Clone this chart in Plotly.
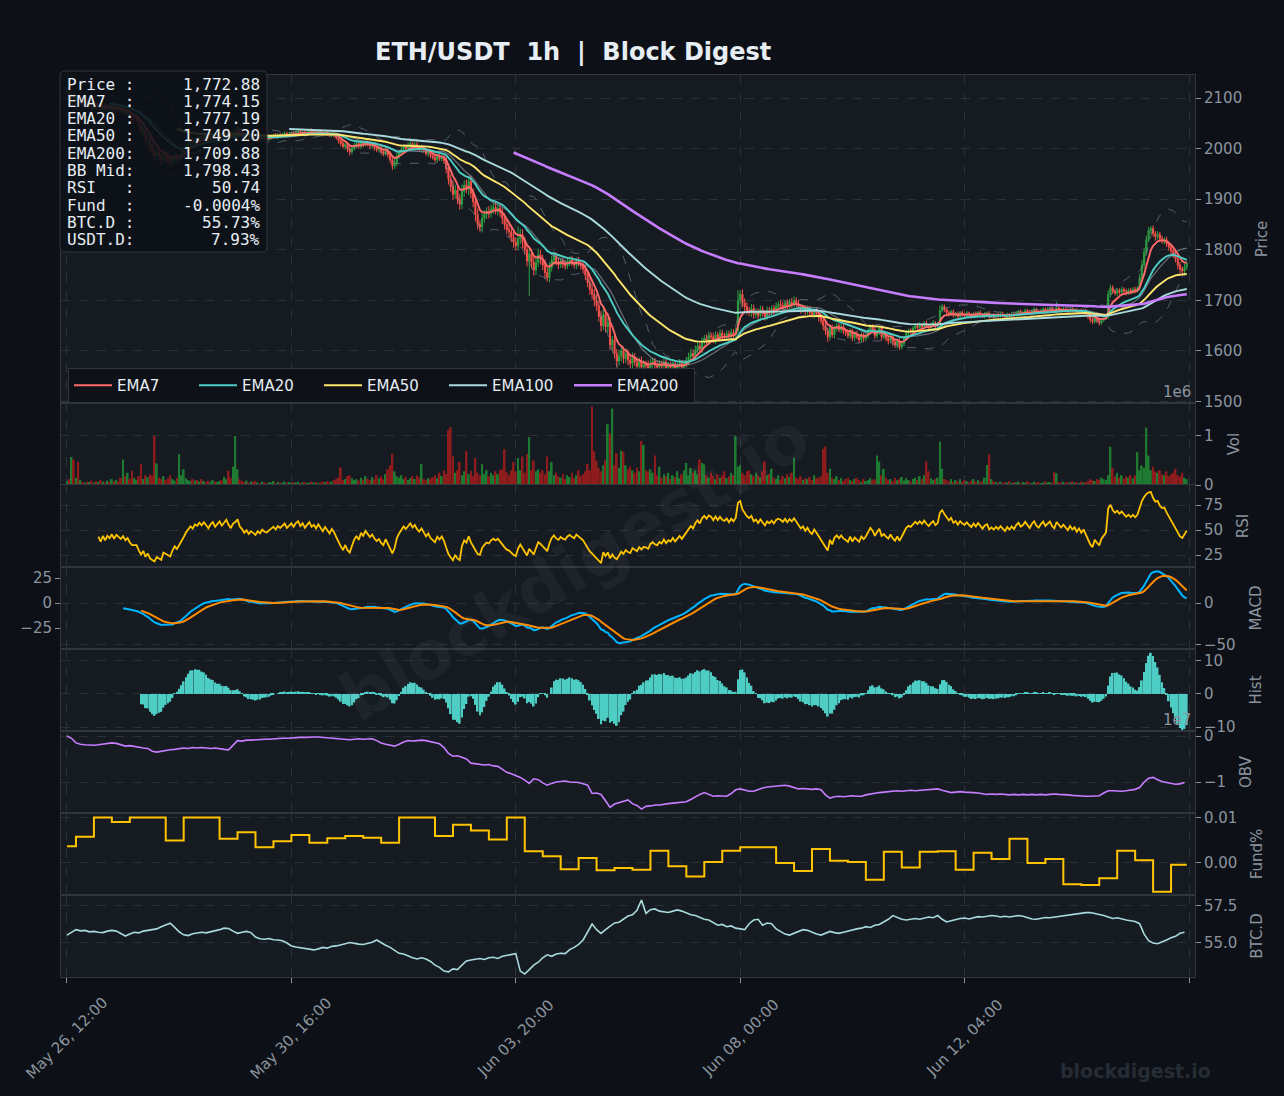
import numpy as np
import pandas as pd
import plotly.graph_objects as go
from plotly.subplots import make_subplots

# ------------------------------------------------------------------ data
start_time = "2023-05-26 12:00"          # first hourly candle

close = [
    2112, 2100, 2106, 2094, 2101, 2090, 2097, 2086, 2094, 2085,
    2092, 2080, 2089, 2081, 2088, 2078, 2086, 2077, 2084, 2079,
    2085, 2076, 2082, 2078, 2074, 2078, 2070, 2073, 2064, 2058,
    2058, 2058, 2046, 2034, 2038, 2018, 2022, 2002, 1994, 1986,
    1992, 1985, 1978, 1988, 1982, 1976, 1972, 1980, 1986, 1978,
    1983, 1990, 1996, 2004, 2010, 2016, 2012, 2020, 2018, 2024,
    2020, 2026, 2022, 2017, 2024, 2028, 2021, 2026, 2031, 2025,
    2030, 2036, 2029, 2024, 2032, 2035, 2040, 2030, 2026, 2020,
    2024, 2018, 2022, 2019, 2016, 2021, 2018, 2023, 2020, 2019,
    2021, 2024, 2026, 2023, 2027, 2025, 2028, 2030, 2026, 2029,
    2031, 2028, 2032, 2034, 2030, 2033, 2029, 2032, 2035, 2031,
    2033, 2030, 2034, 2031, 2028, 2032, 2029, 2026, 2030, 2027,
    2022, 2016, 2010, 2004, 2008, 1999, 1994, 2000, 2006, 2010,
    2004, 2012, 2008, 2014, 2009, 2005, 2008, 2002, 1998, 2000,
    1994, 1990, 1996, 1988, 1978, 1966, 1972, 1985, 1992, 1998,
    2004, 2000, 2006, 2010, 2004, 2008, 2002, 1998, 2003, 1996,
    1990, 1994, 1986, 1982, 1978, 1985, 1980, 1984, 1976, 1960,
    1940, 1925, 1910, 1918, 1900, 1890, 1915, 1928, 1920, 1935,
    1912, 1895, 1870, 1850, 1845, 1862, 1870, 1876, 1872, 1880,
    1884, 1878, 1882, 1874, 1862, 1850, 1840, 1836, 1825, 1815,
    1808, 1822, 1830, 1815, 1800, 1778, 1792, 1775, 1760, 1775,
    1790, 1782, 1770, 1755, 1745, 1765, 1780, 1788, 1776, 1770,
    1778, 1772, 1768, 1776, 1780, 1774, 1770, 1778, 1773, 1768,
    1762, 1750, 1735, 1722, 1712, 1700, 1690, 1668, 1650, 1672,
    1648, 1656, 1612, 1622, 1595, 1580, 1590, 1600, 1585, 1595,
    1582, 1575, 1588, 1578, 1570, 1580, 1568, 1574, 1572, 1565,
    1576, 1580, 1572, 1568, 1575, 1570, 1578, 1566, 1572, 1568,
    1575, 1565, 1570, 1576, 1568, 1574, 1580, 1588, 1595, 1590,
    1602, 1610, 1604, 1618, 1625, 1620, 1630, 1628, 1622, 1632,
    1626, 1635, 1630, 1628, 1634, 1628, 1636, 1632, 1640, 1700,
    1712, 1695, 1688, 1680, 1676, 1684, 1672, 1678, 1670, 1682,
    1675, 1668, 1680, 1676, 1684, 1678, 1688, 1692, 1690, 1686,
    1694, 1688, 1696, 1692, 1700, 1694, 1688, 1682, 1686, 1678,
    1684, 1676, 1672, 1680, 1674, 1666, 1660, 1650, 1640, 1628,
    1646, 1632, 1645, 1650, 1642, 1648, 1640, 1636, 1630, 1640,
    1626, 1634, 1628, 1622, 1632, 1625, 1630, 1640, 1648, 1642,
    1630, 1638, 1645, 1628, 1632, 1625, 1620, 1628, 1618, 1612,
    1620, 1608, 1615, 1625, 1635, 1640, 1638, 1645, 1650, 1646,
    1652, 1648, 1655, 1650, 1646, 1652, 1656, 1650, 1654, 1680,
    1688, 1682, 1676, 1672, 1678, 1670, 1674, 1668, 1676, 1672,
    1670, 1675, 1671, 1668, 1674, 1670, 1676, 1672, 1668, 1673,
    1675, 1668, 1671, 1668, 1672, 1669, 1673, 1670, 1667, 1672,
    1669, 1673, 1670, 1675, 1678, 1674, 1676, 1680, 1677, 1674,
    1679, 1682, 1678, 1676, 1680, 1683, 1679, 1682, 1684, 1680,
    1678, 1685, 1682, 1680, 1683, 1680, 1678, 1682, 1679, 1681,
    1677, 1680, 1676, 1679, 1674, 1668, 1662, 1658, 1664, 1660,
    1656, 1662, 1665, 1668, 1712, 1725, 1718, 1714, 1720, 1716,
    1722, 1718, 1715, 1720, 1717, 1722, 1719, 1724, 1745, 1770,
    1795, 1820, 1838, 1842, 1832, 1826, 1830, 1822, 1818, 1820,
    1812, 1805, 1798, 1790, 1782, 1770, 1762, 1758, 1766, 1772.88,
]

wick_up = [
    15, 8, 6, 4, 5, 4, 3, 5, 4, 3, 4, 5, 3, 4, 5, 3, 4, 3, 5, 4, 3, 4, 5, 3, 4,
    4, 3, 5, 4, 6, 5, 4, 6, 5, 8, 7, 9, 6, 8, 7, 10, 6, 7, 5, 6, 8, 5, 6, 7, 5,
    6, 5, 4, 6, 5, 4, 6, 5, 4, 5, 3, 4, 5, 3, 4, 6, 3, 4, 5, 3, 4, 5, 3, 4, 5,
    3, 6, 4, 3, 4, 3, 5, 3, 4, 3, 5, 3, 4, 3, 4, 3, 4, 3, 5, 3, 4, 3, 4, 3, 4,
    3, 4, 3, 5, 3, 4, 3, 4, 3, 5, 3, 4, 3, 4, 3, 4, 3, 4, 5, 3, 4, 5, 6, 5, 4,
    5, 6, 4, 5, 4, 6, 5, 4, 5, 4, 6, 5, 4, 5, 6, 5, 4, 6, 5, 7, 6, 8, 7, 5, 6,
    5, 4, 6, 5, 4, 5, 6, 4, 5, 4, 5, 6, 5, 4, 6, 5, 4, 5, 6, 8, 10, 9, 12, 11, 8,
    10, 14, 9, 11, 8, 12, 10, 9, 11, 8, 10, 9, 8, 10, 9, 8, 10, 7, 9, 8, 10, 9, 11, 8, 10,
    9, 24, 12, 10, 11, 9, 12, 10, 11, 9, 12, 10, 8, 11, 9, 10, 8, 9, 7, 8, 6, 7, 8, 6, 7,
    8, 6, 7, 8, 6, 9, 8, 10, 9, 11, 10, 12, 9, 11, 14, 10, 9, 11, 8, 10, 9, 12, 10, 9, 11,
    8, 10, 9, 8, 10, 7, 9, 8, 7, 9, 8, 7, 6, 8, 7, 6, 8, 7, 6, 7, 8, 6, 7, 8, 6,
    7, 8, 9, 10, 8, 9, 10, 8, 9, 7, 8, 9, 7, 8, 7, 6, 8, 7, 6, 7, 6, 8, 7, 6, 20,
    8, 10, 9, 8, 7, 9, 8, 7, 6, 8, 7, 6, 8, 7, 6, 7, 8, 6, 9, 7, 6, 8, 7, 9, 8,
    6, 7, 5, 6, 5, 6, 5, 6, 5, 6, 5, 6, 7, 8, 6, 7, 6, 5, 6, 5, 6, 5, 4, 6, 5,
    4, 5, 6, 4, 5, 4, 6, 5, 4, 5, 6, 4, 5, 4, 5, 6, 4, 5, 6, 4, 5, 6, 4, 5, 6,
    4, 5, 4, 5, 4, 5, 3, 4, 5, 3, 4, 5, 3, 4, 10, 5, 4, 3, 4, 3, 4, 3, 4, 3, 4,
    3, 4, 3, 4, 3, 4, 3, 4, 3, 4, 3, 4, 3, 4, 3, 4, 3, 4, 3, 4, 3, 4, 3, 4, 3,
    4, 3, 4, 3, 4, 3, 4, 3, 4, 3, 4, 3, 4, 3, 4, 3, 12, 4, 3, 4, 3, 4, 3, 4, 3,
    4, 3, 4, 3, 4, 3, 4, 3, 4, 3, 4, 3, 4, 5, 8, 6, 5, 4, 5, 4, 5, 4, 5, 4, 5,
    4, 5, 4, 8, 10, 9, 8, 7, 5, 6, 5, 7, 5, 6, 5, 6, 5, 6, 5, 6, 5, 6, 5, 6, 4,
]

wick_dn = [
    5, 4, 5, 3, 4, 5, 3, 4, 5, 3, 4, 3, 5, 4, 3, 4, 5, 3, 4, 3, 5, 4, 3, 4, 5,
    4, 5, 6, 5, 7, 6, 5, 7, 6, 9, 8, 10, 7, 9, 8, 7, 8, 9, 6, 8, 7, 10, 6, 7, 6,
    5, 6, 5, 4, 5, 6, 4, 5, 4, 5, 4, 3, 5, 4, 3, 4, 5, 3, 4, 5, 3, 4, 5, 3, 4,
    5, 3, 4, 5, 3, 4, 5, 3, 4, 3, 4, 5, 3, 4, 3, 4, 3, 4, 3, 5, 3, 4, 3, 4, 3,
    4, 3, 4, 3, 4, 3, 5, 3, 4, 3, 4, 3, 4, 3, 4, 3, 4, 3, 4, 5, 4, 6, 5, 4, 6,
    6, 8, 5, 4, 5, 4, 5, 6, 4, 5, 6, 5, 6, 5, 4, 6, 5, 4, 6, 7, 8, 6, 7, 5, 6,
    4, 5, 4, 5, 6, 4, 5, 4, 6, 5, 4, 6, 5, 4, 5, 6, 4, 5, 6, 9, 11, 10, 12, 9, 10,
    11, 9, 10, 8, 12, 10, 11, 14, 10, 9, 11, 8, 9, 10, 8, 9, 8, 10, 9, 11, 10, 9, 12, 10, 11,
    10, 9, 11, 12, 10, 11, 69, 12, 11, 10, 9, 11, 10, 12, 8, 9, 8, 10, 7, 8, 6, 8, 7, 6, 8,
    6, 7, 8, 6, 7, 9, 10, 9, 11, 10, 12, 11, 10, 12, 9, 11, 12, 10, 11, 10, 12, 9, 11, 10, 9,
    10, 9, 11, 8, 10, 9, 11, 61, 9, 8, 7, 9, 8, 7, 9, 8, 7, 9, 8, 7, 6, 8, 7, 6, 8,
    7, 6, 8, 7, 9, 8, 7, 9, 8, 7, 6, 8, 7, 6, 8, 7, 6, 8, 7, 6, 7, 6, 8, 7, 6,
    8, 9, 10, 8, 7, 9, 8, 7, 8, 6, 7, 8, 6, 7, 6, 8, 7, 6, 7, 6, 8, 7, 6, 7, 6,
    7, 6, 8, 6, 7, 6, 7, 6, 8, 7, 8, 7, 9, 8, 10, 7, 6, 7, 6, 5, 6, 7, 6, 5, 6,
    7, 6, 5, 6, 5, 7, 6, 5, 6, 5, 6, 5, 6, 7, 5, 6, 7, 5, 8, 6, 7, 6, 5, 6, 5,
    5, 4, 5, 4, 5, 4, 5, 4, 3, 5, 4, 3, 5, 4, 3, 4, 5, 3, 4, 3, 4, 3, 4, 3, 4,
    3, 4, 3, 4, 3, 4, 3, 4, 3, 4, 3, 4, 3, 4, 3, 4, 3, 4, 3, 4, 3, 4, 3, 4, 3,
    4, 3, 4, 3, 4, 3, 4, 3, 4, 3, 4, 3, 4, 3, 4, 3, 4, 3, 4, 3, 4, 3, 4, 3, 4,
    3, 4, 3, 4, 3, 5, 6, 5, 4, 5, 6, 4, 5, 4, 5, 6, 5, 4, 5, 4, 5, 4, 5, 4, 5,
    4, 5, 4, 5, 6, 7, 6, 5, 7, 6, 8, 6, 7, 6, 7, 6, 7, 8, 6, 7, 9, 8, 10, 7, 6,
]

volume_m = [   # millions
    0.08, 0.12, 0.57, 0.52, 0.15, 0.47, 0.10, 0.06, 0.05, 0.07, 0.06, 0.09, 0.05, 0.08, 0.06, 0.10, 0.07, 0.05, 0.09, 0.06, 0.12, 0.08, 0.10, 0.07, 0.15,
    0.52, 0.18, 0.25, 0.12, 0.29, 0.14, 0.10, 0.18, 0.43, 0.12, 0.20, 0.16, 0.22, 0.19, 1.00, 0.44, 0.15, 0.12, 0.18, 0.10, 0.14, 0.20, 0.12, 0.09, 0.15,
    0.63, 0.20, 0.32, 0.14, 0.10, 0.08, 0.12, 0.09, 0.10, 0.07, 0.12, 0.08, 0.06, 0.09, 0.05, 0.10, 0.07, 0.06, 0.08, 0.10, 0.17, 0.12, 0.29, 0.15, 0.37,
    1.00, 0.32, 0.12, 0.08, 0.06, 0.09, 0.05, 0.07, 0.06, 0.08, 0.05, 0.04, 0.07, 0.05, 0.04, 0.06, 0.05, 0.08, 0.04, 0.06, 0.05, 0.04, 0.07, 0.05, 0.06,
    0.04, 0.06, 0.05, 0.07, 0.04, 0.05, 0.06, 0.04, 0.05, 0.07, 0.05, 0.06, 0.04, 0.05, 0.07, 0.06, 0.08, 0.05, 0.07, 0.10, 0.12, 0.15, 0.36, 0.10, 0.12,
    0.18, 0.20, 0.14, 0.10, 0.12, 0.09, 0.15, 0.11, 0.18, 0.13, 0.10, 0.16, 0.12, 0.20, 0.14, 0.18, 0.12, 0.22, 0.32, 0.40, 0.64, 0.28, 0.18, 0.15, 0.20,
    0.12, 0.16, 0.10, 0.14, 0.18, 0.12, 0.20, 0.15, 0.43, 0.12, 0.10, 0.14, 0.12, 0.16, 0.20, 0.14, 0.25, 0.18, 0.30, 0.22, 1.12, 1.18, 0.58, 0.25, 0.30,
    0.47, 0.20, 0.28, 0.69, 0.22, 0.29, 0.18, 0.55, 0.25, 0.20, 0.43, 0.22, 0.30, 0.18, 0.25, 0.20, 0.28, 0.22, 0.30, 0.32, 0.73, 0.26, 0.20, 0.30, 0.47,
    0.28, 0.55, 0.30, 0.58, 0.25, 0.63, 0.98, 0.30, 0.50, 0.28, 0.32, 0.25, 0.30, 0.22, 0.58, 0.28, 0.47, 0.20, 0.25, 0.18, 0.15, 0.22, 0.12, 0.20, 0.16,
    0.25, 0.14, 0.20, 0.30, 0.18, 0.22, 0.28, 0.43, 0.30, 1.60, 0.69, 0.50, 0.35, 0.28, 0.40, 0.50, 1.24, 1.05, 1.56, 0.40, 0.65, 0.35, 0.70, 0.68, 0.40,
    0.32, 0.38, 0.30, 0.25, 0.35, 0.28, 0.90, 0.82, 0.30, 0.28, 0.32, 0.25, 0.60, 0.20, 0.37, 0.15, 0.22, 0.18, 0.25, 0.12, 0.20, 0.16, 0.28, 0.14, 0.22,
    0.30, 0.45, 0.20, 0.35, 0.25, 0.30, 0.22, 0.52, 0.45, 0.42, 0.20, 0.15, 0.25, 0.18, 0.12, 0.22, 0.15, 0.20, 0.28, 0.14, 0.18, 0.25, 0.20, 1.00, 0.37,
    0.41, 0.25, 0.20, 0.28, 0.30, 0.22, 0.18, 0.25, 0.20, 0.15, 0.28, 0.48, 0.20, 0.22, 0.33, 0.15, 0.12, 0.20, 0.10, 0.18, 0.14, 0.22, 0.16, 0.25, 0.56,
    0.15, 0.12, 0.18, 0.10, 0.14, 0.12, 0.16, 0.10, 0.20, 0.13, 0.15, 0.18, 0.74, 0.78, 0.25, 0.33, 0.15, 0.12, 0.18, 0.10, 0.14, 0.08, 0.12, 0.15, 0.10,
    0.08, 0.12, 0.15, 0.10, 0.06, 0.12, 0.08, 0.10, 0.14, 0.09, 0.12, 0.60, 0.48, 0.20, 0.33, 0.15, 0.10, 0.12, 0.08, 0.15, 0.10, 0.12, 0.16, 0.09, 0.14,
    0.10, 0.08, 0.12, 0.15, 0.10, 0.18, 0.12, 0.20, 0.48, 0.28, 0.14, 0.10, 0.12, 0.15, 0.89, 0.33, 0.12, 0.10, 0.08, 0.12, 0.06, 0.10, 0.08, 0.12, 0.06,
    0.10, 0.08, 0.05, 0.09, 0.12, 0.07, 0.10, 0.06, 0.08, 0.15, 0.41, 0.63, 0.12, 0.08, 0.06, 0.05, 0.07, 0.04, 0.06, 0.05, 0.08, 0.04, 0.06, 0.05, 0.07,
    0.04, 0.06, 0.05, 0.08, 0.05, 0.04, 0.07, 0.05, 0.06, 0.04, 0.05, 0.08, 0.05, 0.06, 0.04, 0.26, 0.24, 0.06, 0.05, 0.07, 0.04, 0.06, 0.05, 0.08, 0.05,
    0.06, 0.04, 0.07, 0.05, 0.06, 0.08, 0.12, 0.10, 0.08, 0.12, 0.10, 0.15, 0.12, 0.10, 0.20, 0.78, 0.35, 0.18, 0.25, 0.15, 0.20, 0.12, 0.18, 0.15, 0.20,
    0.14, 0.20, 0.67, 0.30, 0.40, 0.35, 1.17, 0.60, 0.30, 0.37, 0.28, 0.25, 0.30, 0.22, 0.20, 0.28, 0.18, 0.22, 0.25, 0.33, 0.20, 0.18, 0.25, 0.15, 0.12,
]

obv_e7 = [   # OBV in units of 1e7, sampled every 2 hours
    0.0, -0.05, -0.15, -0.18, -0.19, -0.2, -0.2, -0.19, -0.18, -0.17,
    -0.15, -0.16, -0.19, -0.22, -0.21, -0.23, -0.24, -0.26, -0.27, -0.33,
    -0.35, -0.33, -0.31, -0.3, -0.29, -0.27, -0.26, -0.27, -0.25, -0.26,
    -0.25, -0.26, -0.27, -0.26, -0.28, -0.29, -0.3, -0.2, -0.1, -0.11,
    -0.09, -0.09, -0.08, -0.08, -0.07, -0.07, -0.06, -0.06, -0.05, -0.05,
    -0.04, -0.04, -0.03, -0.03, -0.02, -0.02, -0.02, -0.03, -0.04, -0.04,
    -0.05, -0.06, -0.07, -0.08, -0.07, -0.06, -0.07, -0.06, -0.06, -0.1,
    -0.15, -0.18, -0.2, -0.22, -0.18, -0.13, -0.1, -0.11, -0.1, -0.09,
    -0.1, -0.12, -0.14, -0.17, -0.25, -0.38, -0.44, -0.43, -0.46, -0.5,
    -0.59, -0.6, -0.62, -0.63, -0.62, -0.65, -0.66, -0.72, -0.79, -0.82,
    -0.86, -0.9, -0.96, -1.03, -0.93, -0.95, -1.02, -1.07, -1.03, -1.0,
    -0.99, -0.98, -1.0, -1.0, -1.01, -1.04, -1.07, -1.25, -1.24, -1.27,
    -1.4, -1.55, -1.48, -1.45, -1.42, -1.39, -1.47, -1.51, -1.59, -1.53,
    -1.52, -1.5, -1.5, -1.48, -1.47, -1.46, -1.45, -1.44, -1.43, -1.38,
    -1.32, -1.27, -1.23, -1.27, -1.31, -1.3, -1.31, -1.31, -1.25, -1.17,
    -1.15, -1.18, -1.2, -1.2, -1.16, -1.13, -1.11, -1.1, -1.09, -1.08,
    -1.07, -1.09, -1.12, -1.15, -1.14, -1.15, -1.16, -1.15, -1.17, -1.28,
    -1.35, -1.32, -1.31, -1.32, -1.31, -1.3, -1.31, -1.31, -1.28, -1.26,
    -1.25, -1.23, -1.22, -1.21, -1.2, -1.19, -1.2, -1.19, -1.18, -1.19,
    -1.18, -1.17, -1.16, -1.15, -1.15, -1.18, -1.2, -1.23, -1.22, -1.21,
    -1.22, -1.22, -1.23, -1.24, -1.25, -1.27, -1.26, -1.27, -1.26, -1.27,
    -1.28, -1.27, -1.28, -1.27, -1.28, -1.27, -1.28, -1.27, -1.28, -1.27,
    -1.26, -1.27, -1.27, -1.28, -1.29, -1.3, -1.3, -1.31, -1.31, -1.31,
    -1.3, -1.24, -1.19, -1.19, -1.2, -1.2, -1.19, -1.18, -1.16, -1.12,
    -1.0, -0.92, -0.9, -0.95, -0.99, -1.01, -1.03, -1.05, -1.04, -1.01,
]

btc_dom = [   # BTC dominance %, sampled every 2 hours
    55.53, 55.7, 55.9, 55.82, 55.85, 55.75, 55.78, 55.72, 55.7, 55.8,
    55.85, 55.8, 55.62, 55.47, 55.6, 55.72, 55.68, 55.8, 55.85, 55.92,
    55.95, 56.1, 56.2, 56.33, 56.05, 55.75, 55.55, 55.5, 55.62, 55.65,
    55.72, 55.68, 55.74, 55.8, 55.9, 56.0, 55.98, 55.8, 55.65, 55.72,
    55.78, 55.7, 55.4, 55.28, 55.25, 55.3, 55.22, 55.2, 55.15, 55.0,
    54.8, 54.73, 54.68, 54.62, 54.58, 54.53, 54.6, 54.7, 54.65, 54.77,
    54.8, 54.9, 54.95, 55.03, 54.95, 54.92, 54.9, 54.95, 55.05, 55.2,
    55.0, 54.85, 54.7, 54.5, 54.3, 54.25, 54.1, 54.0, 53.92, 54.0,
    53.92, 53.75, 53.5, 53.35, 53.1, 53.05, 53.25, 53.2, 53.5, 53.78,
    53.85, 53.9, 53.95, 53.88, 54.0, 54.03, 53.95, 54.1, 54.15, 54.2,
    54.28, 53.1, 52.9, 53.2, 53.5, 53.7, 54.0, 54.2, 54.1, 54.25,
    54.3, 54.28, 54.55, 54.7, 54.9, 55.2, 55.7, 56.28, 55.9, 55.65,
    55.9, 56.15, 56.35, 56.4, 56.6, 56.82, 56.9, 57.2, 57.9, 57.0,
    57.25, 57.3, 57.15, 57.1, 57.06, 57.15, 57.23, 57.15, 57.0, 56.9,
    56.85, 56.7, 56.6, 56.55, 56.35, 56.2, 56.25, 56.1, 56.15, 56.0,
    55.95, 55.9, 56.3, 56.55, 56.6, 56.2, 56.35, 56.3, 55.95, 55.78,
    55.6, 55.53, 55.65, 55.75, 55.9, 55.85, 55.7, 55.6, 55.53, 55.65,
    55.78, 55.7, 55.65, 55.72, 55.8, 55.9, 55.95, 56.0, 56.1, 56.05,
    56.2, 56.25, 56.4, 56.6, 56.85, 56.7, 56.6, 56.55, 56.6, 56.65,
    56.6, 56.7, 56.75, 56.7, 56.85, 56.6, 56.42, 56.5, 56.6, 56.65,
    56.68, 56.62, 56.7, 56.78, 56.75, 56.8, 56.85, 56.82, 56.75, 56.8,
    56.75, 56.8, 56.85, 56.8, 56.7, 56.62, 56.6, 56.65, 56.72, 56.7,
    56.75, 56.8, 56.85, 56.88, 56.92, 56.96, 57.0, 57.05, 57.06, 57.0,
    56.9, 56.85, 56.75, 56.65, 56.7, 56.6, 56.55, 56.5, 56.45, 56.3,
    55.6, 55.15, 55.0, 54.95, 55.05, 55.2, 55.35, 55.45, 55.65, 55.73,
]

funding_pct = [   # one value per 8h funding period (first partial period = 4h)
    0.0037, 0.0058, 0.0101, 0.0091, 0.0101, 0.0101, 0.0050, 0.0101, 0.0101, 0.0054,
    0.0068, 0.0035, 0.0048, 0.0062, 0.0045, 0.0055, 0.0060, 0.0056, 0.0045, 0.0101,
    0.0101, 0.0060, 0.0085, 0.0072, 0.0052, 0.0101, 0.0026, 0.0015, -0.0014, 0.0011,
    -0.0016, -0.0011, -0.0015, 0.0027, -0.0007, -0.0030, 0.0002, 0.0027, 0.0035, 0.0035,
    0.0000, -0.0018, 0.0031, 0.0005, 0.0002, -0.0037, 0.0025, -0.0010, 0.0025, 0.0026,
    -0.0015, 0.0023, 0.0009, 0.0054, 0.0000, 0.0009, -0.0047, -0.0049, -0.0034, 0.0027,
    0.0006, -0.0064, -0.0004,
]

info_labels = ["Price :", "EMA7  :", "EMA20 :", "EMA50 :", "EMA200:",
               "BB Mid:", "RSI   :", "Fund  :", "BTC.D :", "USDT.D:"]
info_values = ["1,772.88", "1,774.15", "1,777.19", "1,749.20", "1,709.88",
               "1,798.43", "50.74", "-0.0004%", "55.73%", "7.93%"]

ema_periods = [7, 20, 50, 100, 200]
ema_colors = ["#ff6b6b", "#4ecdc4", "#ffe66d", "#a8dadc", "#c77dff"]
panel_titles = ["Price", "Vol", "RSI", "MACD", "Hist", "OBV", "Fund%", "BTC.D"]

n = len(close)
for nm, arr in [("wick_up", wick_up), ("wick_dn", wick_dn), ("volume_m", volume_m)]:
    assert len(arr) == n, (nm, len(arr))
assert len(obv_e7) == len(btc_dom) == n // 2, (len(obv_e7), len(btc_dom))

# ------------------------------------------------------------------ derived
idx = np.arange(n)
times = pd.date_range(start_time, periods=n, freq="h")
c = pd.Series(close, dtype=float)
o = c.shift(1).fillna(c.iloc[0])
hi = np.maximum(o, c) + np.array(wick_up)
lo = np.minimum(o, c) - np.array(wick_dn)
up = (c >= o).values

emas = [c.ewm(span=p, adjust=False, min_periods=p).mean() for p in ema_periods]
bb_mid = c.rolling(20).mean()
bb_std = c.rolling(20).std(ddof=0)
bb_up, bb_lo = bb_mid + 2 * bb_std, bb_mid - 2 * bb_std

d = c.diff()
ag = d.clip(lower=0).ewm(alpha=1 / 14, adjust=True, min_periods=14).mean()
al = (-d.clip(upper=0)).ewm(alpha=1 / 14, adjust=True, min_periods=14).mean()
rsi = 100 - 100 / (1 + ag / al)

macd = (c.ewm(span=12, adjust=False, min_periods=12).mean()
        - c.ewm(span=26, adjust=False, min_periods=26).mean())
signal = macd.ewm(span=9, adjust=False, min_periods=9).mean()
hist = macd - signal

period = np.where(idx < 4, 0, (idx - 4) // 8 + 1)
fund_hourly = np.array(funding_pct)[period]
idx2 = idx[::2]

# ------------------------------------------------------------------ style
BG, PANEL = "#0d1117", "#161b22"
GRID, FRAME = "#2b3139", "#30363d"
TXT, WHITE = "#8b949e", "#e6edf3"
GREEN, RED = "#2ea043", "#f85149"
VGREEN, VRED = "#1e7a30", "#8e1c1c"
FONT = "DejaVu Sans"

W, H = 1284, 1096
L, R, T, B = 61, 1195, 75, 977


def px(x):
    return (x - L) / (R - L)


def py(y):
    return (B - y) / (B - T)


fig = make_subplots(rows=8, cols=1, shared_xaxes=True, vertical_spacing=0,
                    row_heights=[4, 1, 1, 1, 1, 1, 1, 1])

# price panel
fig.add_trace(go.Scatter(x=idx, y=bb_up, mode="lines", showlegend=False, hoverinfo="skip",
                         line=dict(color="rgba(139,148,158,0.55)", width=1, dash="dash")), 1, 1)
fig.add_trace(go.Scatter(x=idx, y=bb_lo, mode="lines", showlegend=False, hoverinfo="skip",
                         line=dict(color="rgba(139,148,158,0.55)", width=1, dash="dash")), 1, 1)
fig.add_trace(go.Scatter(x=idx, y=bb_mid, mode="lines", showlegend=False, hoverinfo="skip",
                         line=dict(color="rgba(139,148,158,0.7)", width=1.2)), 1, 1)
fig.add_trace(go.Candlestick(x=idx, open=o, high=hi, low=lo, close=c, showlegend=False,
                             increasing=dict(line=dict(color=GREEN, width=1), fillcolor=GREEN),
                             decreasing=dict(line=dict(color=RED, width=1), fillcolor=RED),
                             whiskerwidth=0), 1, 1)
for p, col, e in zip(ema_periods, ema_colors, emas):
    fig.add_trace(go.Scatter(x=idx, y=e, mode="lines", name=f"EMA{p}",
                             line=dict(color=col, width=2.6 if p == 200 else 1.9)), 1, 1)

# volume
fig.add_trace(go.Bar(x=idx, y=volume_m, width=0.8, showlegend=False,
                     marker=dict(color=np.where(up, VGREEN, VRED), line=dict(width=0))), 2, 1)
# RSI
fig.add_trace(go.Scatter(x=idx, y=rsi, mode="lines", showlegend=False,
                         line=dict(color="#ffc400", width=1.8)), 3, 1)
# MACD + signal
fig.add_trace(go.Scatter(x=idx, y=macd, mode="lines", showlegend=False,
                         line=dict(color="#00b4ff", width=2)), 4, 1)
fig.add_trace(go.Scatter(x=idx, y=signal, mode="lines", showlegend=False,
                         line=dict(color="#ff8c00", width=2)), 4, 1)
# secondary (left) MACD scale: invisible copy so the left axis is drawn
fig.add_trace(go.Scatter(x=idx, y=macd, mode="lines", showlegend=False, hoverinfo="skip",
                         xaxis="x4", yaxis="y9", line=dict(color="rgba(0,0,0,0)", width=0)))
# histogram
fig.add_trace(go.Bar(x=idx, y=hist, width=0.8, showlegend=False,
                     marker=dict(color="#4ecdc4", line=dict(width=0))), 5, 1)
# OBV
fig.add_trace(go.Scatter(x=idx2, y=obv_e7, mode="lines", showlegend=False,
                         line=dict(color="#c77dff", width=1.6)), 6, 1)
# funding
fig.add_trace(go.Scatter(x=idx, y=fund_hourly, mode="lines", showlegend=False, line_shape="hv",
                         line=dict(color="#ffc400", width=2)), 7, 1)
# BTC dominance
fig.add_trace(go.Scatter(x=idx2, y=btc_dom, mode="lines", showlegend=False,
                         line=dict(color="#a8dadc", width=1.6)), 8, 1)

# ------------------------------------------------------------------ axes
xt = list(range(0, n + 1, 100))
for r in range(1, 9):
    fig.update_xaxes(row=r, col=1, range=[-2.67, 502.67], tickvals=xt, showticklabels=False,
                     showgrid=True, gridcolor=GRID, griddash="dash", gridwidth=1,
                     showline=True, mirror=True, linecolor=FRAME, zeroline=False,
                     ticks="outside" if r == 8 else "", ticklen=5, tickcolor=TXT,
                     rangeslider_visible=False)

yspec = [
    dict(range=[1497.2, 2145.5], tickvals=[1500, 1600, 1700, 1800, 1900, 2000, 2100]),
    dict(range=[0, 1.673], tickvals=[0, 1], ticktext=["0", "1"]),
    dict(range=[13, 95], tickvals=[25, 50, 75]),
    dict(range=[-54.8, 42.9], tickvals=[-50, 0]),
    dict(range=[-11.2, 13.6], tickvals=[-10, 0, 10]),
    dict(range=[-1.674, 0.109], tickvals=[-1, 0]),
    dict(range=[-0.00711, 0.0111], tickvals=[0, 0.01], tickformat=".2f"),
    dict(range=[52.70, 58.24], tickvals=[55, 57.5], tickformat=".1f"),
]
for r, spec in enumerate(yspec, start=1):
    fig.update_yaxes(row=r, col=1, side="right", ticks="outside", ticklen=5, tickcolor=TXT,
                     tickfont=dict(size=15, color=TXT, family=FONT),
                     showgrid=True, gridcolor=GRID, griddash="dash", gridwidth=1,
                     zeroline=False, showline=True, mirror=True, linecolor=FRAME,
                     title=dict(text=panel_titles[r - 1], font=dict(size=15, color=TXT, family=FONT)),
                     **spec)

macd_domain = list(fig.layout.yaxis4.domain)
fig.update_layout(yaxis9=dict(overlaying="y4", side="left", anchor="x4", domain=macd_domain,
                              range=[-46, 36], tickvals=[-25, 0, 25], ticks="outside", ticklen=5,
                              tickcolor=TXT, tickfont=dict(size=15, color=TXT, family=FONT),
                              showgrid=False, zeroline=False, showline=False))

# ------------------------------------------------------------------ annotations
ann = []
ann.append(dict(text="<b>ETH/USDT\u00a0\u00a01h\u00a0\u00a0|\u00a0\u00a0Block Digest</b>",
                xref="paper", yref="paper", x=px(573), y=py(52), xanchor="center", yanchor="middle",
                showarrow=False, font=dict(size=24, color=WHITE, family=FONT)))
for t in xt[:-1]:
    ann.append(dict(text=times[t].strftime("%b %d, %H:%M"), xref="x8", yref="paper",
                    x=t, y=py(1038), xanchor="center", yanchor="middle", textangle=-45,
                    showarrow=False, font=dict(size=15, color=TXT, family=FONT)))
for txt, yy in [("1e6", 392), ("1e7", 720)]:
    ann.append(dict(text=txt, xref="paper", yref="paper", x=px(1193), y=py(yy),
                    xanchor="right", yanchor="middle", showarrow=False,
                    font=dict(size=15, color=TXT, family=FONT)))
for k, (lab, val) in enumerate(zip(info_labels, info_values)):
    yy = py(84 + 17.33 * k)
    ann.append(dict(text=lab.replace(" ", "\u00a0"), xref="paper", yref="paper", x=px(66), y=yy,
                    xanchor="left", yanchor="middle", showarrow=False, borderpad=0,
                    font=dict(size=16, color=WHITE, family="DejaVu Sans Mono")))
    ann.append(dict(text=val, xref="paper", yref="paper", x=px(261), y=yy,
                    xanchor="right", yanchor="middle", showarrow=False, borderpad=0,
                    font=dict(size=16, color=WHITE, family="DejaVu Sans Mono")))
ann.append(dict(text="<b>blockdigest.io</b>", xref="paper", yref="paper", x=px(575), y=py(567),
                xanchor="center", yanchor="middle", textangle=-31, showarrow=False,
                font=dict(size=67, color="rgba(255,255,255,0.04)", family=FONT)))
ann.append(dict(text="<b>blockdigest.io</b>", xref="paper", yref="paper", x=px(1135), y=py(1071),
                xanchor="center", yanchor="middle", showarrow=False,
                font=dict(size=19, color="#262c35", family=FONT)))


def rounded_rect(x0, y0, x1, y1, r):
    X0, X1, Yt, Yb = px(x0), px(x1), py(y0), py(y1)
    rx, ry = r / (R - L), r / (B - T)
    return (f"M {X0 + rx},{Yt} L {X1 - rx},{Yt} Q {X1},{Yt} {X1},{Yt - ry} "
            f"L {X1},{Yb + ry} Q {X1},{Yb} {X1 - rx},{Yb} L {X0 + rx},{Yb} "
            f"Q {X0},{Yb} {X0},{Yb + ry} L {X0},{Yt - ry} Q {X0},{Yt} {X0 + rx},{Yt} Z")


shapes = [dict(type="path", xref="paper", yref="paper", path=rounded_rect(60, 71, 267, 252, 5),
               fillcolor="rgba(13,17,23,0.88)", line=dict(color=FRAME, width=1), layer="above")]

fig.update_layout(
    width=W, height=H, margin=dict(l=L, r=W - R, t=T, b=H - B),
    paper_bgcolor=BG, plot_bgcolor=PANEL,
    font=dict(family=FONT, color=TXT),
    annotations=ann, shapes=shapes, hovermode=False,
    legend=dict(orientation="h", x=px(68), y=py(368), xanchor="left", yanchor="top",
                bgcolor="rgba(13,17,23,0.9)", bordercolor=FRAME, borderwidth=1,
                font=dict(size=15, color=WHITE, family=FONT), itemwidth=38,
                entrywidth=72, entrywidthmode="pixels"),
)

fig.write_html("out.html")
